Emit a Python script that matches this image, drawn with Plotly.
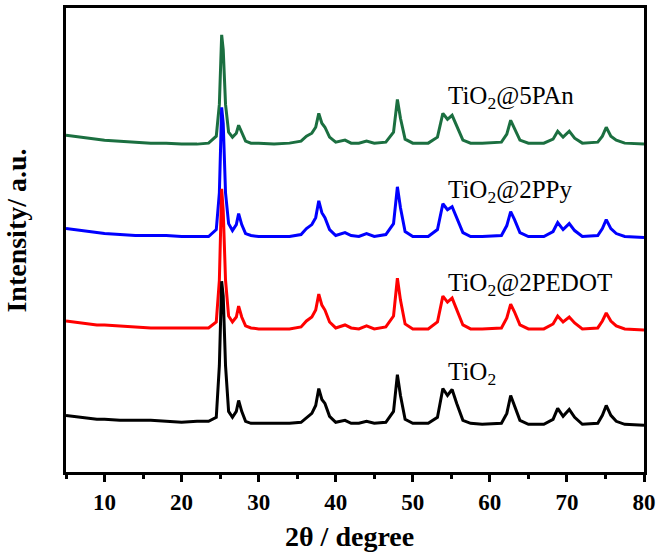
import plotly.graph_objects as go

# 2-theta grid (degrees) shared by all patterns
two_theta = [5, 6, 7, 8, 9, 10, 12, 14, 16, 18,
             20, 22, 23.5, 24.5, 24.9, 25.2, 25.4, 25.7, 26.1, 26.6,
             27.1, 27.4, 27.8, 28.3, 29, 30, 32, 34, 35.5, 36.2,
             36.9, 37.4, 37.8, 38.2, 38.6, 39.2, 40, 41.2, 42, 43,
             44, 45, 46.5, 47.5, 48.0, 48.4, 49, 50, 52, 53.2,
             53.9, 54.5, 55.1, 55.7, 56.5, 57.5, 59, 61.5, 62.2, 62.7,
             63.2, 63.9, 65, 67, 68.2, 68.8, 69.5, 70.3, 71, 72,
             74, 74.6, 75.1, 75.7, 76.4, 77.5, 80]

# intensities (a.u.), each relative to its own baseline
tio2 = [10, 9, 8, 7, 6, 6, 5, 5, 5, 4,
        3, 4, 4, 8, 60, 145, 130, 60, 14, 8,
        14, 25, 14, 4, 2, 2, 2, 2, 3, 8,
        12, 20, 37, 26, 22, 9, 3, 5, 2, 2,
        4, 2, 3, 14, 51, 30, 6, 2, 2, 8,
        37, 30, 36, 22, 5, 2, 1, 2, 12, 30,
        20, 5, 1, 1, 6, 17, 9, 16, 8, 1,
        2, 10, 20, 10, 4, 1, 0]

tio2_pedot = [9, 8, 7, 6, 5, 5, 4, 3, 2, 2,
              2, 2, 2, 8, 50, 142, 120, 50, 14, 8,
              13, 24, 13, 4, 2, 1, 1, 1, 3, 9,
              13, 20, 36, 25, 20, 8, 2, 5, 2, 1,
              4, 1, 3, 14, 52, 30, 6, 1, 1, 8,
              34, 28, 32, 20, 5, 1, 1, 2, 12, 26,
              18, 5, 1, 1, 6, 14, 8, 13, 7, 1,
              2, 9, 17, 9, 4, 1, 0]

tio2_ppy = [9, 8, 7, 6, 5, 4, 3, 2, 2, 2,
            1, 1, 1, 8, 45, 131, 115, 45, 14, 7,
            13, 24, 13, 4, 2, 1, 1, 1, 3, 9,
            13, 20, 37, 25, 20, 8, 2, 5, 2, 1,
            4, 1, 3, 14, 51, 30, 6, 1, 1, 8,
            34, 28, 31, 20, 5, 1, 1, 2, 12, 26,
            18, 5, 1, 1, 6, 15, 8, 14, 7, 1,
            2, 9, 18, 9, 4, 1, 0]

tio2_pan = [9, 8, 7, 6, 5, 4, 3, 2, 1, 1,
            0, 0, 1, 8, 40, 110, 95, 40, 12, 7,
            11, 19, 11, 3, 1, 1, 0, 1, 3, 8,
            11, 17, 31, 21, 17, 7, 2, 4, 1, 1,
            3, 1, 2, 12, 45, 26, 5, 1, 1, 7,
            31, 25, 29, 18, 4, 1, 1, 2, 10, 24,
            16, 4, 1, 1, 5, 13, 7, 13, 6, 1,
            2, 8, 17, 8, 4, 1, 0]

names = ["TiO<sub>2</sub>@5PAn", "TiO<sub>2</sub>@2PPy",
         "TiO<sub>2</sub>@2PEDOT", "TiO<sub>2</sub>"]
patterns = [tio2_pan, tio2_ppy, tio2_pedot, tio2]
offsets = [330, 236, 143, 47]
colors = ["#1b6f40", "#0000ff", "#ff0000", "#000000"]
label_y = [377, 282, 189, 99]

fig = go.Figure()
for name, vals, off, col in zip(names, patterns, offsets, colors):
    fig.add_trace(go.Scatter(
        x=two_theta,
        y=[v + off for v in vals],
        mode="lines",
        name=name,
        line=dict(color=col, width=3),
    ))

for name, ly in zip(names, label_y):
    fig.add_annotation(x=54.3, y=ly, text=name, showarrow=False,
                       xanchor="left", yanchor="middle",
                       font=dict(family="Liberation Serif", size=25, color="black"))

# axis titles as annotations for exact placement
fig.add_annotation(xref="paper", yref="paper", x=-0.085, y=0.52,
                   text="<b>Intensity/ a.u.</b>", textangle=-90, showarrow=False,
                   xanchor="center", yanchor="middle",
                   font=dict(family="Liberation Serif", size=28, color="black"))
fig.add_annotation(xref="paper", yref="paper", x=0.49, y=-0.138,
                   text="<b>2θ / degree</b>", showarrow=False,
                   xanchor="center", yanchor="middle",
                   font=dict(family="Liberation Serif", size=28, color="black"))

fig.update_layout(
    width=661, height=555,
    margin=dict(l=66, r=15, t=5, b=83),
    plot_bgcolor="white", paper_bgcolor="white",
    showlegend=False,
    font=dict(family="Liberation Serif", color="black"),
)
fig.update_xaxes(
    range=[5, 80], tickvals=[10, 20, 30, 40, 50, 60, 70, 80],
    ticks="outside", ticklen=7, tickwidth=3, tickcolor="black",
    minor=dict(tickvals=[5, 15, 25, 35, 45, 55, 65, 75], ticks="outside",
               ticklen=4, tickwidth=3, tickcolor="black"),
    showline=True, linewidth=3, linecolor="black", mirror=True,
    showgrid=False, zeroline=False,
    tickfont=dict(family="Liberation Serif", size=23, weight="bold"),
)
fig.update_yaxes(
    range=[0, 467], showticklabels=False, ticks="",
    showline=True, linewidth=3, linecolor="black", mirror=True,
    showgrid=False, zeroline=False,
)

fig.write_html("out.html", config={"displayModeBar": False},
               post_script="document.body.style.margin='0';")
